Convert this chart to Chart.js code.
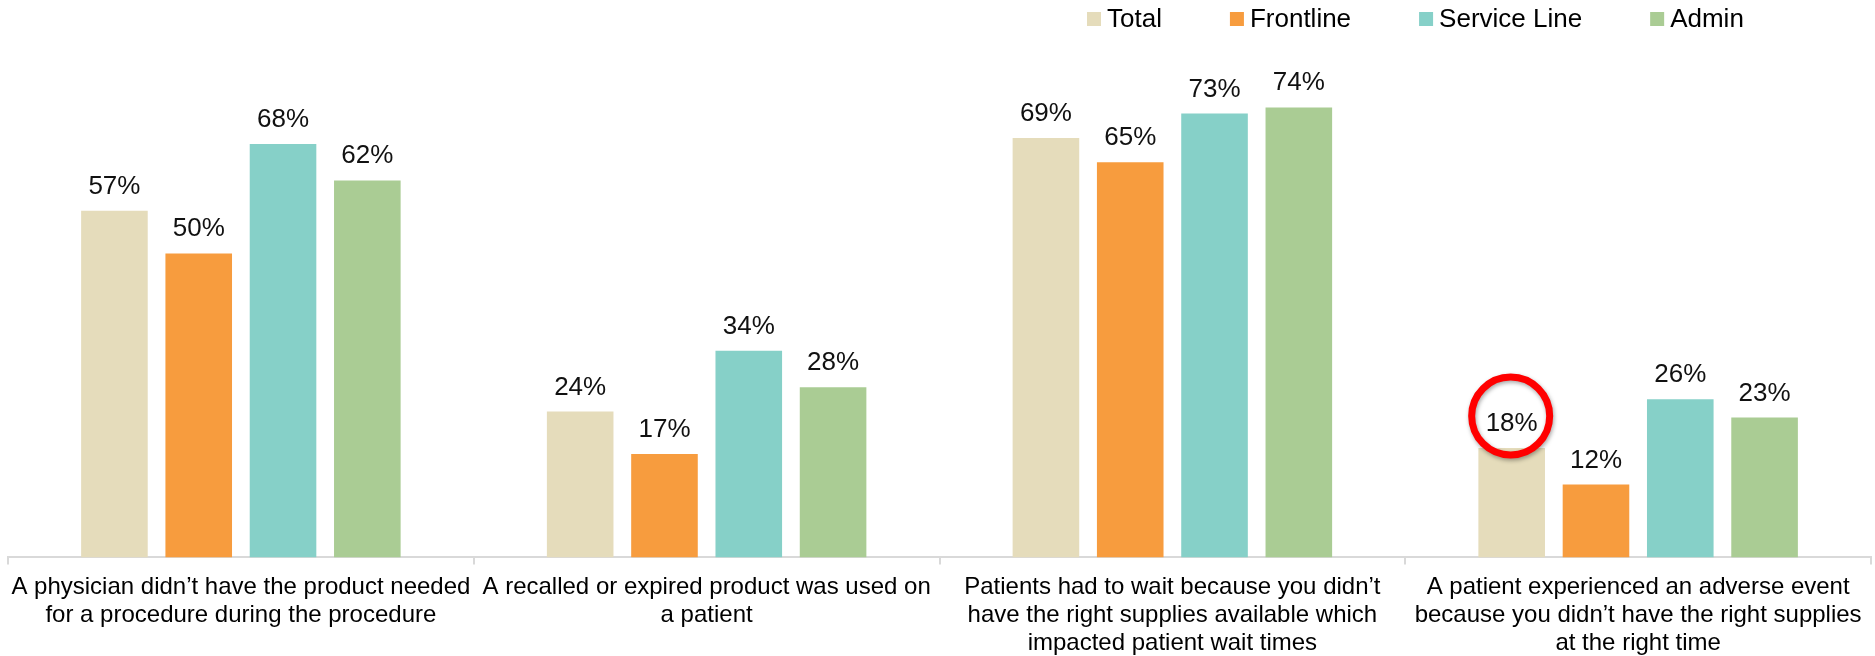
<!DOCTYPE html>
<html>
<head>
<meta charset="utf-8">
<script src="https://cdn.jsdelivr.net/npm/chart.js@4/dist/chart.umd.min.js"></script>
<style>
  html, body { margin: 0; padding: 0; background: #fff; }
  #wrap { width: 1875px; height: 656px; }
</style>
</head>
<body>
<div id="wrap"><canvas id="myChart"></canvas></div>
<script>
const categories = [
    ['A physician didn\u2019t have the product needed', 'for a procedure during the procedure'],
    ['A recalled or expired product was used on', 'a patient'],
    ['Patients had to wait because you didn\u2019t', 'have the right supplies available which', 'impacted patient wait times'],
    ['A patient experienced an adverse event', 'because you didn\u2019t have the right supplies', 'at the right time']
]
const seriesNames = ['Total', 'Frontline', 'Service Line', 'Admin']
const total = [57, 24, 69, 18]
const frontline = [50, 17, 65, 12]
const serviceLine = [68, 34, 73, 26]
const admin = [62, 28, 74, 23]
const colors = ['#E5DCBB', '#F79C3E', '#86D0C8', '#AACC94']

const FONT = '"Liberation Sans", Arial, sans-serif'

// value labels above each bar + red circle on the Total / adverse event label
const valueLabels = {
    id: 'valueLabels',
    afterDatasetsDraw(chart) {
        const ctx = chart.ctx
        ctx.save()
        ctx.font = '26px ' + FONT
        ctx.fillStyle = '#111'
        ctx.textAlign = 'center'
        ctx.textBaseline = 'alphabetic'
        chart.data.datasets.forEach((ds, i) => {
            chart.getDatasetMeta(i).data.forEach((bar, j) => {
                ctx.fillText(ds.data[j] + '%', bar.x, bar.y - 17)
            })
        })
        // highlight circle
        const bar = chart.getDatasetMeta(0).data[3]
        ctx.shadowColor = 'rgba(0,0,0,0.35)'
        ctx.shadowBlur = 4
        ctx.shadowOffsetX = 1
        ctx.shadowOffsetY = 2
        ctx.strokeStyle = '#FF0000'
        ctx.lineWidth = 7
        ctx.beginPath()
        ctx.arc(bar.x - 1, bar.y - 32, 39, 0, Math.PI * 2)
        ctx.stroke()
        ctx.restore()
    }
}

// legend drawn top right like the original
const topLegend = {
    id: 'topLegend',
    afterDraw(chart) {
        const ctx = chart.ctx
        ctx.save()
        ctx.font = '26px ' + FONT
        ctx.fillStyle = '#000'
        ctx.textBaseline = 'alphabetic'
        let x = 1087
        chart.data.datasets.forEach(ds => {
            ctx.fillStyle = ds.backgroundColor
            ctx.fillRect(x, 12, 14, 14)
            ctx.fillStyle = '#000'
            ctx.fillText(ds.label, x + 20, 27)
            x += 20 + ctx.measureText(ds.label).width + 68
        })
        ctx.restore()
    }
}

const ctx = document.getElementById('myChart').getContext('2d')
const myChart = new Chart(ctx, {
    type: 'bar',
    data: {
        labels: categories,
        datasets: [
            { label: seriesNames[0], data: total, backgroundColor: colors[0] },
            { label: seriesNames[1], data: frontline, backgroundColor: colors[1] },
            { label: seriesNames[2], data: serviceLine, backgroundColor: colors[2] },
            { label: seriesNames[3], data: admin, backgroundColor: colors[3] }
        ]
    },
    options: {
        responsive: true,
        maintainAspectRatio: false,
        animation: false,
        datasets: {
            bar: { categoryPercentage: 0.724, barPercentage: 0.79 }
        },
        layout: { padding: { top: 71, left: 8, right: 4, bottom: -10 } },
        plugins: {
            legend: { display: false },
            tooltip: { enabled: false }
        },
        scales: {
            x: {
                grid: {
                    display: true,
                    drawOnChartArea: false,
                    drawTicks: true,
                    tickLength: 7,
                    color: '#D9D9D9',
                    lineWidth: 2
                },
                border: { display: true, color: '#D9D9D9', width: 2 },
                ticks: {
                    color: '#000',
                    padding: 9,
                    maxRotation: 0,
                    autoSkip: false,
                    font: { family: FONT, size: 24, lineHeight: 1.16 }
                }
            },
            y: {
                display: false,
                min: 0,
                max: 80
            }
        }
    },
    plugins: [valueLabels, topLegend]
})
</script>
</body>
</html>
